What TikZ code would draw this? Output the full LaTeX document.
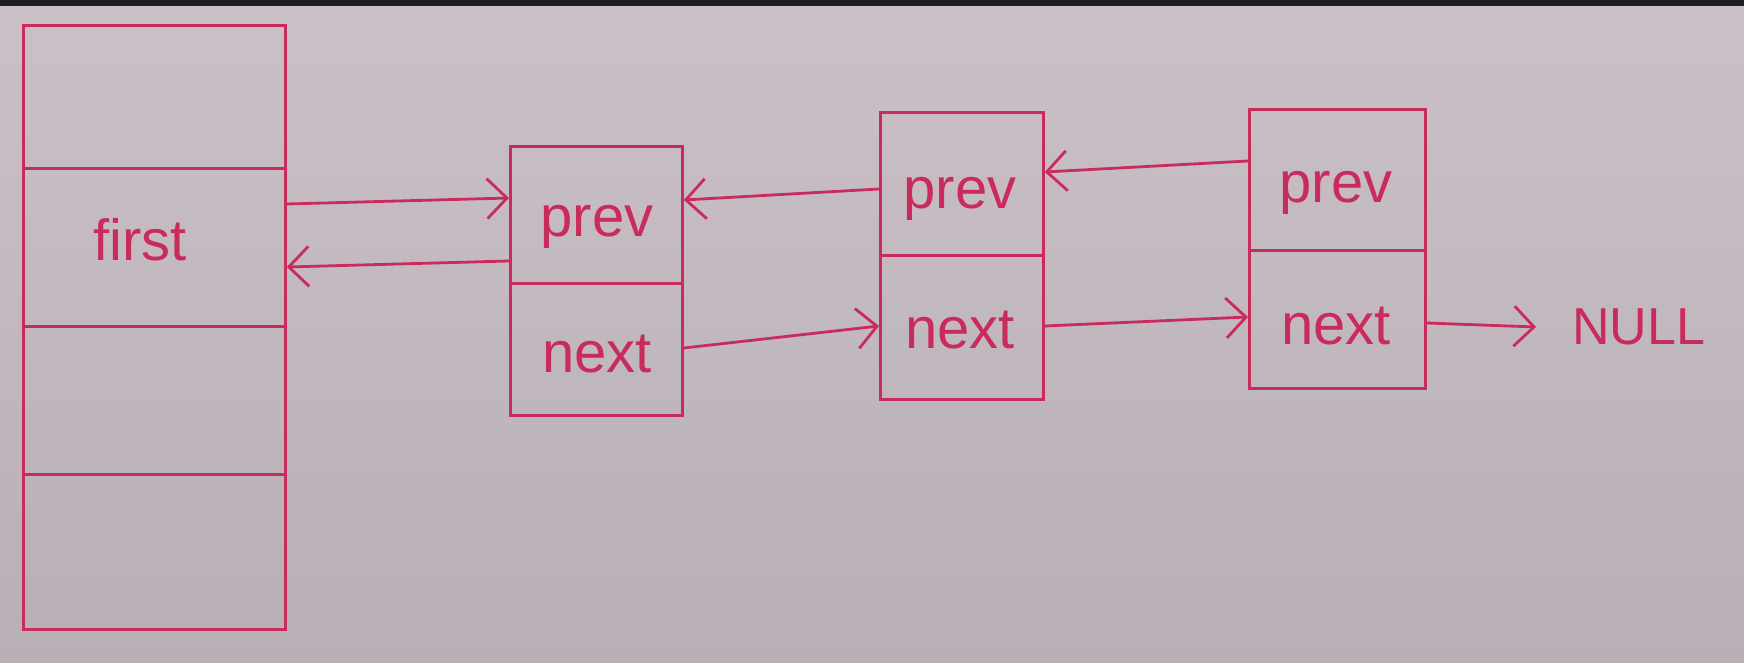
\documentclass[tikz,border=0pt]{standalone}
\usepackage{fontspec}
\setmainfont{Liberation Sans}
\usetikzlibrary{arrows.meta}
\definecolor{ink}{HTML}{C92C5C}
\definecolor{papertop}{HTML}{CBC0C8}
\definecolor{paperbot}{HTML}{B8AFB6}
\definecolor{band}{HTML}{1E1E1E}
\begin{document}
\begin{tikzpicture}[x=1pt,y=-1pt,
  cell/.style={draw=ink,line width=2.8pt,rectangle,inner sep=0pt,anchor=north west},
  lbl/.style={text=ink,font=\fontsize{58}{60}\selectfont},
  arr/.style={draw=ink,line width=2.8pt,-{Straight Barb[length=20pt,width=40pt,line width=2.8pt]}}]
\useasboundingbox (0,0) rectangle (1744,663);
\shade[top color=papertop,bottom color=paperbot] (0,0) rectangle (1744,663);
\fill[band] (0,0) rectangle (1744,6);
% left array
\node[cell,minimum width=262pt,minimum height=143pt] (s1) at (22,24) {};
\node[cell,minimum width=262pt,minimum height=158pt] (s2) at (22,167) {};
\node[cell,minimum width=262pt,minimum height=148pt] (s3) at (22,325) {};
\node[cell,minimum width=262pt,minimum height=155pt] (s4) at (22,473) {};
\node[lbl] (tfirst) at (140,240) {first};
% node 1
\node[cell,minimum width=172pt,minimum height=137pt] (p1) at (509,145) {};
\node[cell,minimum width=172pt,minimum height=132pt] (n1) at (509,282) {};
\node[lbl] (tp1) at (597,227) {prev};
\node[lbl] (tn1) at (597,354) {next};
% node 2
\node[cell,minimum width=163pt,minimum height=143pt] (p2) at (879,111) {};
\node[cell,minimum width=163pt,minimum height=144pt] (n2) at (879,254) {};
\node[lbl] (tp2) at (960,199) {prev};
\node[lbl] (tn2) at (960,330) {next};
% node 3
\node[cell,minimum width=176pt,minimum height=141pt] (p3) at (1248,108) {};
\node[cell,minimum width=176pt,minimum height=138pt] (n3) at (1248,249) {};
\node[lbl] (tp3) at (1336,193) {prev};
\node[lbl] (tn3) at (1336,326) {next};
% NULL
\node[text=ink,font=\fontsize{52}{54}\selectfont,anchor=west,inner sep=0pt] (null) at (1572,327) {NULL};
% arrows
\draw[arr] (s2.east |- 0,204) -- (p1.west |- 0,198);
\draw[arr] (p1.west |- 0,261) -- (s2.east |- 0,267);
\draw[arr] (p2.west |- 0,189) -- (p1.east |- 0,200);
\draw[arr] (p3.west |- 0,161) -- (p2.east |- 0,172);
\draw[arr] (n1.east |- 0,348) -- (n2.west |- 0,326);
\draw[arr] (n2.east |- 0,326) -- (n3.west |- 0,317);
\draw[arr] (n3.east |- 0,323) -- ([xshift=-36pt]null.west);
\end{tikzpicture}
\end{document}
